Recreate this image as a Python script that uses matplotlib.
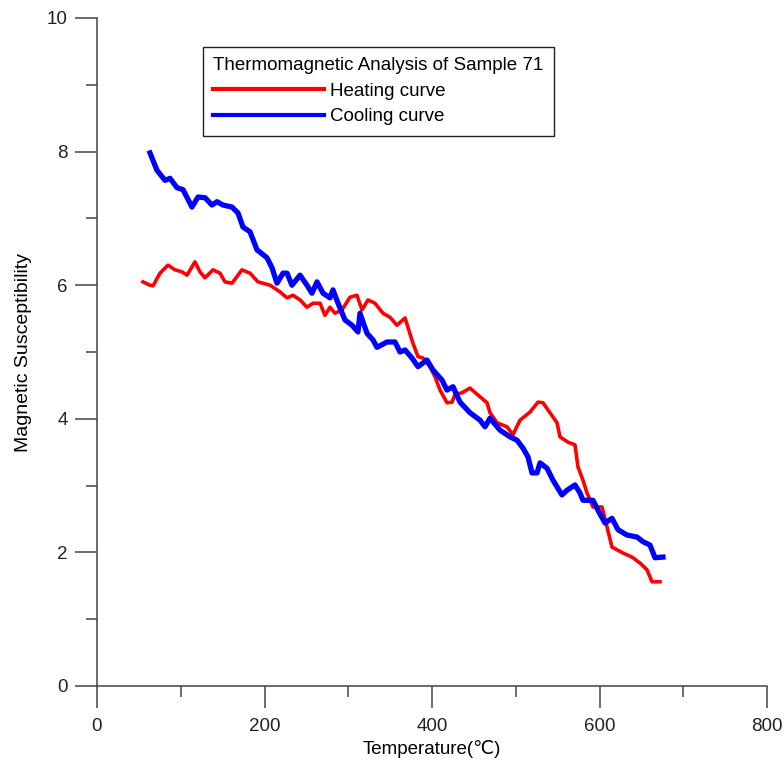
import matplotlib
matplotlib.use("Agg")
import matplotlib.pyplot as plt
from matplotlib.ticker import MultipleLocator

plt.rcParams['font.family'] = ['Liberation Sans', 'DejaVu Sans']

heat_temp = [54.9, 63.3, 66.9, 75.2, 84.8, 93.1, 101.5, 107.5, 117.0, 123.0, 128.9, 138.5,
             146.9, 152.8, 161.2, 173.1, 182.7, 192.2, 206.6, 218.5, 226.9, 234.0, 242.4,
             250.7, 257.9, 266.3, 272.2, 278.2, 284.2, 292.5, 302.1, 310.4, 316.4, 323.6,
             331.9, 341.5, 349.9, 358.2, 367.8, 371.3, 377.3, 383.3, 389.3, 397.6, 403.6,
             409.6, 417.9, 423.9, 427.5, 435.8, 445.4, 457.3, 465.7, 469.3, 477.6, 489.6,
             496.7, 505.1, 517.0, 526.6, 532.5, 540.9, 549.3, 552.8, 562.4, 570.7, 574.3,
             580.3, 585.1, 592.2, 603.0, 609.0, 614.9, 620.9, 628.1, 638.8, 648.4, 656.7,
             662.7, 672.2]
heat_sus = [6.05, 6.00, 5.99, 6.18, 6.30, 6.23, 6.20, 6.15, 6.35, 6.20, 6.11, 6.23,
            6.18, 6.05, 6.03, 6.23, 6.18, 6.05, 6.00, 5.90, 5.81, 5.85, 5.78,
            5.67, 5.73, 5.73, 5.55, 5.67, 5.58, 5.63, 5.82, 5.85, 5.63, 5.78,
            5.73, 5.58, 5.52, 5.40, 5.51, 5.37, 5.13, 4.93, 4.91, 4.78, 4.63,
            4.43, 4.24, 4.25, 4.36, 4.39, 4.46, 4.33, 4.24, 4.09, 3.94, 3.88,
            3.76, 3.98, 4.10, 4.25, 4.24, 4.09, 3.94, 3.73, 3.65, 3.61, 3.28,
            3.08, 2.89, 2.68, 2.68, 2.38, 2.08, 2.04, 1.99, 1.93, 1.84, 1.74,
            1.56, 1.56]

cool_temp = [63.3, 71.6, 81.2, 87.2, 95.5, 102.7, 113.4, 120.6, 129.0, 137.3, 143.3, 150.4,
             161.2, 168.4, 174.3, 182.7, 191.0, 203.0, 209.0, 214.9, 222.1, 226.9, 232.8,
             242.4, 250.7, 256.7, 262.7, 269.9, 278.2, 281.8, 287.8, 296.1, 304.5, 311.6,
             314.0, 322.4, 329.6, 334.3, 346.3, 355.8, 361.8, 367.8, 376.1, 383.3, 394.0,
             401.2, 411.9, 417.9, 425.1, 433.4, 445.4, 457.3, 463.3, 469.3, 481.2, 493.1,
             501.5, 508.7, 514.6, 519.4, 525.4, 529.0, 537.3, 544.5, 555.2, 561.2, 570.7,
             576.7, 580.3, 592.2, 598.2, 606.6, 614.9, 622.1, 632.8, 644.8, 652.0, 660.3,
             666.3, 675.8]
cool_sus = [7.98, 7.72, 7.57, 7.60, 7.46, 7.43, 7.17, 7.32, 7.31, 7.20, 7.25, 7.20,
            7.17, 7.08, 6.87, 6.80, 6.53, 6.41, 6.26, 6.03, 6.18, 6.18, 6.00,
            6.15, 6.00, 5.88, 6.05, 5.88, 5.81, 5.93, 5.73, 5.48, 5.40, 5.30,
            5.58, 5.28, 5.18, 5.07, 5.15, 5.15, 5.00, 5.03, 4.91, 4.78, 4.88,
            4.73, 4.58, 4.43, 4.48, 4.25, 4.09, 3.98, 3.88, 4.01, 3.83, 3.73,
            3.68, 3.56, 3.43, 3.19, 3.19, 3.34, 3.26, 3.08, 2.86, 2.93, 3.01,
            2.89, 2.78, 2.78, 2.63, 2.44, 2.51, 2.34, 2.26, 2.23, 2.16, 2.11,
            1.92, 1.93]

labels = ["Heating curve", "Cooling curve"]
legend_title = "Thermomagnetic Analysis of Sample 71"

FS = 13.5

fig = plt.figure(figsize=(7.84, 7.66), dpi=100)
ax = fig.add_axes([97/784, 80/766, 670/784, 668/766])

ax.plot(heat_temp, heat_sus, color='#ff0000', lw=2.6, label=labels[0])
ax.plot(cool_temp, cool_sus, color='#0000ff', lw=3.8, label=labels[1])

ax.set_xlim(0, 800)
ax.set_ylim(0, 10)
ax.xaxis.set_major_locator(MultipleLocator(200))
ax.xaxis.set_minor_locator(MultipleLocator(100))
ax.yaxis.set_major_locator(MultipleLocator(2))
ax.yaxis.set_minor_locator(MultipleLocator(1))

for s in ['top', 'right']:
    ax.spines[s].set_visible(False)
for s in ['left', 'bottom']:
    ax.spines[s].set_color('#444444')
    ax.spines[s].set_linewidth(1.1)

ax.tick_params(which='major', direction='out', length=16, width=1.1, color='#444444',
               labelsize=FS, labelcolor='#222222')
ax.tick_params(which='minor', direction='out', length=8, width=1.1, color='#444444')
ax.tick_params(axis='x', which='major', pad=7)
ax.tick_params(axis='y', which='major', pad=5)

ax.set_xlabel("Temperature(℃)", fontsize=FS, labelpad=4)
ax.set_ylabel("Magnetic Susceptibility", fontsize=14, labelpad=11)

leg = ax.legend(title=legend_title, loc='upper left',
                bbox_to_anchor=(203/784, 1 - 47/766), bbox_transform=fig.transFigure,
                borderaxespad=0,
                fancybox=False, framealpha=1, edgecolor='#222222',
                fontsize=FS, title_fontsize=FS, handlelength=5.9,
                handletextpad=0.32, labelspacing=0.45, borderpad=0.55,
                alignment='left')
leg.get_frame().set_linewidth(1.0)
for line in leg.get_lines():
    line.set_linewidth(3)

fig.savefig("out.png", dpi=100)
